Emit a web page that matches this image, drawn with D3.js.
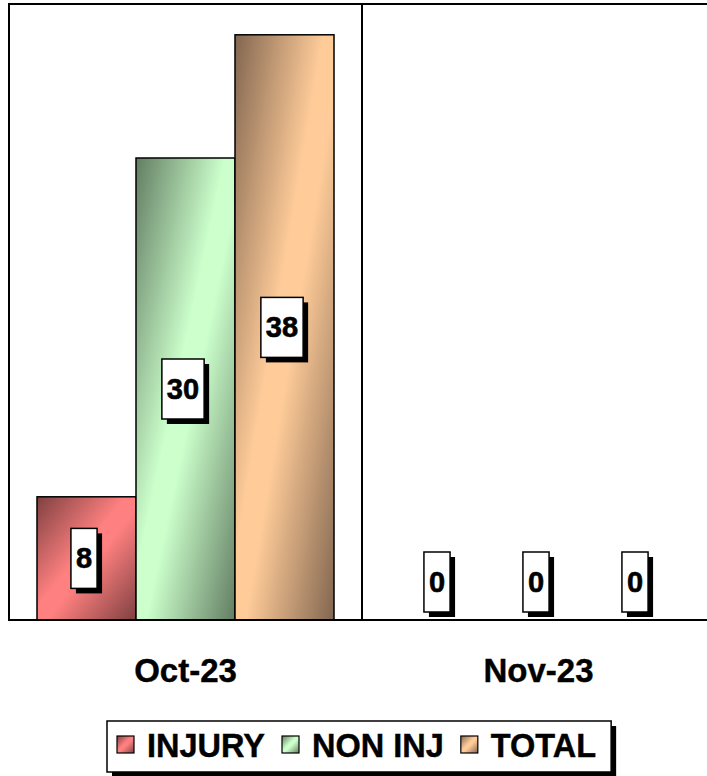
<!DOCTYPE html>
<html>
<head>
<meta charset="utf-8">
<script src="https://cdn.jsdelivr.net/npm/d3@7"></script>
<style>
  html, body { margin: 0; padding: 0; background: #fff; }
  svg { display: block; }
  text { font-family: "Liberation Sans", Arial, Helvetica, sans-serif; font-weight: bold; }
</style>
</head>
<body>
<svg id="chart" width="707" height="776"></svg>
<script>
const categories = ["Oct-23", "Nov-23"];
const seriesNames = ["INJURY", "NON INJ", "TOTAL"];
const injury = [8, 0];
const nonInj = [30, 0];
const total = [38, 0];
const yTicks = [0, 40];

const seriesValues = [injury, nonInj, total];
const lightColors = ["#FF8080", "#CCFFCC", "#FFCC99"];
const darkColors = ["#7F4040", "#627D62", "#826650"];

const svg = d3.select("#chart");
const plot = { left: 9, right: 715, top: 4, bottom: 620 };

const defs = svg.append("defs");
seriesNames.forEach((s, i) => {
  const g = defs.append("linearGradient")
    .attr("id", "grad" + i)
    .attr("x1", 0).attr("y1", 0).attr("x2", 1).attr("y2", 1);
  g.append("stop").attr("offset", "0%").attr("stop-color", darkColors[i]);
  g.append("stop").attr("offset", "45%").attr("stop-color", lightColors[i]);
  g.append("stop").attr("offset", "55%").attr("stop-color", lightColors[i]);
  g.append("stop").attr("offset", "100%").attr("stop-color", darkColors[i]);
});

const x0 = d3.scaleBand().domain(categories).range([plot.left, plot.right]).paddingInner(0).paddingOuter(0);
const groupPad = 28;
const x1 = d3.scaleBand().domain(seriesNames).range([groupPad, x0.bandwidth() - groupPad]).padding(0);
const y = d3.scaleLinear().domain(d3.extent(yTicks)).range([plot.bottom, plot.top]);

// plot frame
svg.append("rect")
  .attr("x", plot.left).attr("y", plot.top)
  .attr("width", plot.right - plot.left).attr("height", plot.bottom - plot.top)
  .attr("fill", "#fff").attr("stroke", "#000").attr("stroke-width", 2);

// category divider
categories.slice(1).forEach(c => {
  svg.append("line")
    .attr("x1", x0(c)).attr("x2", x0(c))
    .attr("y1", plot.top).attr("y2", plot.bottom)
    .attr("stroke", "#000").attr("stroke-width", 2);
});

// bars
const rows = [];
categories.forEach((c, ci) => {
  seriesNames.forEach((s, si) => {
    rows.push({ cat: c, series: s, si: si, value: seriesValues[si][ci] });
  });
});

svg.append("g").selectAll("rect").data(rows.filter(d => d.value > 0)).join("rect")
  .attr("x", d => x0(d.cat) + x1(d.series))
  .attr("y", d => y(d.value))
  .attr("width", x1.bandwidth())
  .attr("height", d => y(0) - y(d.value))
  .attr("fill", d => "url(#grad" + d.si + ")")
  .attr("stroke", "#000").attr("stroke-width", 1.5);

// baseline
svg.append("line")
  .attr("x1", plot.left).attr("x2", plot.right)
  .attr("y1", y(0)).attr("y2", y(0))
  .attr("stroke", "#000").attr("stroke-width", 2);

// data labels
const labelFont = 29, boxH = 60, shadow = 5;
const lg = svg.append("g");
rows.forEach(d => {
  const cx = x0(d.cat) + x1(d.series) + x1.bandwidth() / 2;
  const cyMid = (y(d.value) + y(0)) / 2;
  const cy = Math.min(cyMid, y(0) - 8 - boxH / 2);
  const g = lg.append("g");
  const t = g.append("text").attr("font-size", labelFont).text(d.value);
  const tw = t.node().getComputedTextLength();
  const bw = tw + 10;
  const bx = cx - (bw + shadow) / 2;
  const by = cy - boxH / 2;
  g.insert("rect", "text").attr("x", bx + shadow).attr("y", by + shadow)
    .attr("width", bw).attr("height", boxH).attr("fill", "#000");
  g.insert("rect", "text").attr("x", bx).attr("y", by)
    .attr("width", bw).attr("height", boxH).attr("fill", "#fff")
    .attr("stroke", "#000").attr("stroke-width", 1.5);
  t.attr("x", bx + bw / 2).attr("y", cy).attr("text-anchor", "middle")
    .attr("dominant-baseline", "central").attr("fill", "#000")
    .attr("stroke", "#000").attr("stroke-width", 0.6);
});

// category axis labels
svg.append("g").selectAll("text").data(categories).join("text")
  .attr("x", d => x0(d) + x0.bandwidth() / 2)
  .attr("y", 682)
  .attr("text-anchor", "middle")
  .attr("font-size", 33)
  .attr("fill", "#000")
  .attr("stroke", "#000").attr("stroke-width", 0.4)
  .text(d => d);

// legend
const legend = svg.append("g");
const legX = 107, legY = 721, legH = 51;
const items = legend.append("g");
let cursor = legX + 10;
seriesNames.forEach((s, i) => {
  items.append("rect").attr("x", cursor).attr("y", 736)
    .attr("width", 17).attr("height", 17)
    .attr("fill", "url(#grad" + i + ")").attr("stroke", "#000").attr("stroke-width", 1.2);
  const t = items.append("text").attr("x", cursor + 30).attr("y", 757)
    .attr("font-size", 32.5).attr("fill", "#000")
    .attr("stroke", "#000").attr("stroke-width", 0.4).text(s);
  cursor = cursor + 30 + t.node().getComputedTextLength() + 17;
});
const legW = cursor - 17 + 15 - legX;
legend.insert("rect", "g").attr("x", legX + 5).attr("y", legY + 5)
  .attr("width", legW).attr("height", legH).attr("fill", "#000");
legend.insert("rect", "g").attr("x", legX).attr("y", legY)
  .attr("width", legW).attr("height", legH).attr("fill", "#fff")
  .attr("stroke", "#000").attr("stroke-width", 1.5);
</script>
</body>
</html>
